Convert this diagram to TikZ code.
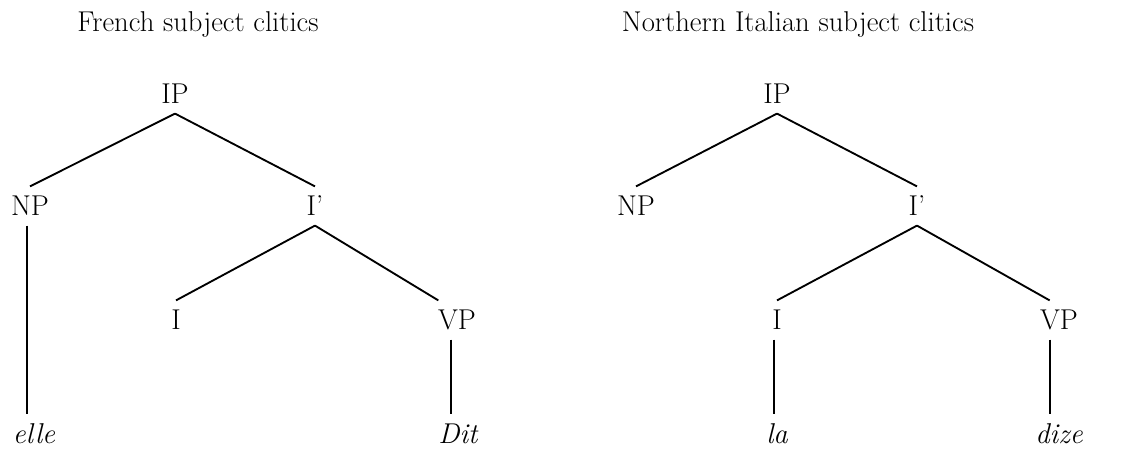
\documentclass[tikz,border=0pt]{standalone}
\begin{document}
\begin{tikzpicture}[x=0.75pt,y=-0.75pt,
    cat/.style={anchor=base,inner sep=0pt,text height=22pt,text depth=7pt,font=\fontsize{21.5}{25}\selectfont},
    word/.style={cat,font=\fontsize{21.5}{25}\selectfont\itshape},
    title/.style={anchor=base,font=\fontsize{21.5}{25}\selectfont},
    branch/.style={line width=1.4pt}]
        \useasboundingbox (0,0) rectangle (1122,452);
        % French
        \node[title] (tfr) at (198,32) {French subject clitics};
        \node[cat] (IPa) at (175,104) {IP};
        \node[cat] (NPa) at (30,216) {NP};
        \node[cat] (Ia') at (315,216) {I’};
        \node[cat] (Ia) at (176,330) {I};
        \node[cat] (VPa) at (457,330) {VP};
        \node[word] (ella) at (34,444) {elle};
        \node[word] (dita) at (458,444) {Dit};
        \draw[branch] (IPa.south) -- (NPa.north);
        \draw[branch] (IPa.south) -- (Ia'.north);
        \draw[branch] ([xshift=-2pt]NPa.south) -- ([xshift=-2pt]NPa.south |- ella.north);
        \draw[branch] (Ia'.south) -- (Ia.north);
        \draw[branch] (Ia'.south) -- ([xshift=-14pt]VPa.north);
        \draw[branch] ([xshift=-4.5pt]VPa.south) -- ([xshift=-4.5pt]VPa.south |- dita.north);
        % Northern Italian
        \node[title] (tit) at (798,32) {Northern Italian subject clitics};
        \node[cat] (IPb) at (777,104) {IP};
        \node[cat] (NPb) at (636,216) {NP};
        \node[cat] (Ib') at (917,216) {I’};
        \node[cat] (Ib) at (777,330) {I};
        \node[cat] (VPb) at (1059,330) {VP};
        \node[word] (lab) at (777,444) {la};
        \node[word] (dizb) at (1059,444) {dize};
        \draw[branch] (IPb.south) -- (NPb.north);
        \draw[branch] (IPb.south) -- (Ib'.north);
        \draw[branch] (Ib'.south) -- (Ib.north);
        \draw[branch] (Ib'.south) -- ([xshift=-7pt]VPb.north);
        \draw[branch] ([xshift=-2pt]Ib.south) -- ([xshift=-2pt]Ib.south |- lab.north);
        \draw[branch] ([xshift=-7pt]VPb.south) -- ([xshift=-7pt]VPb.south |- dizb.north);
\end{tikzpicture}
\end{document}
